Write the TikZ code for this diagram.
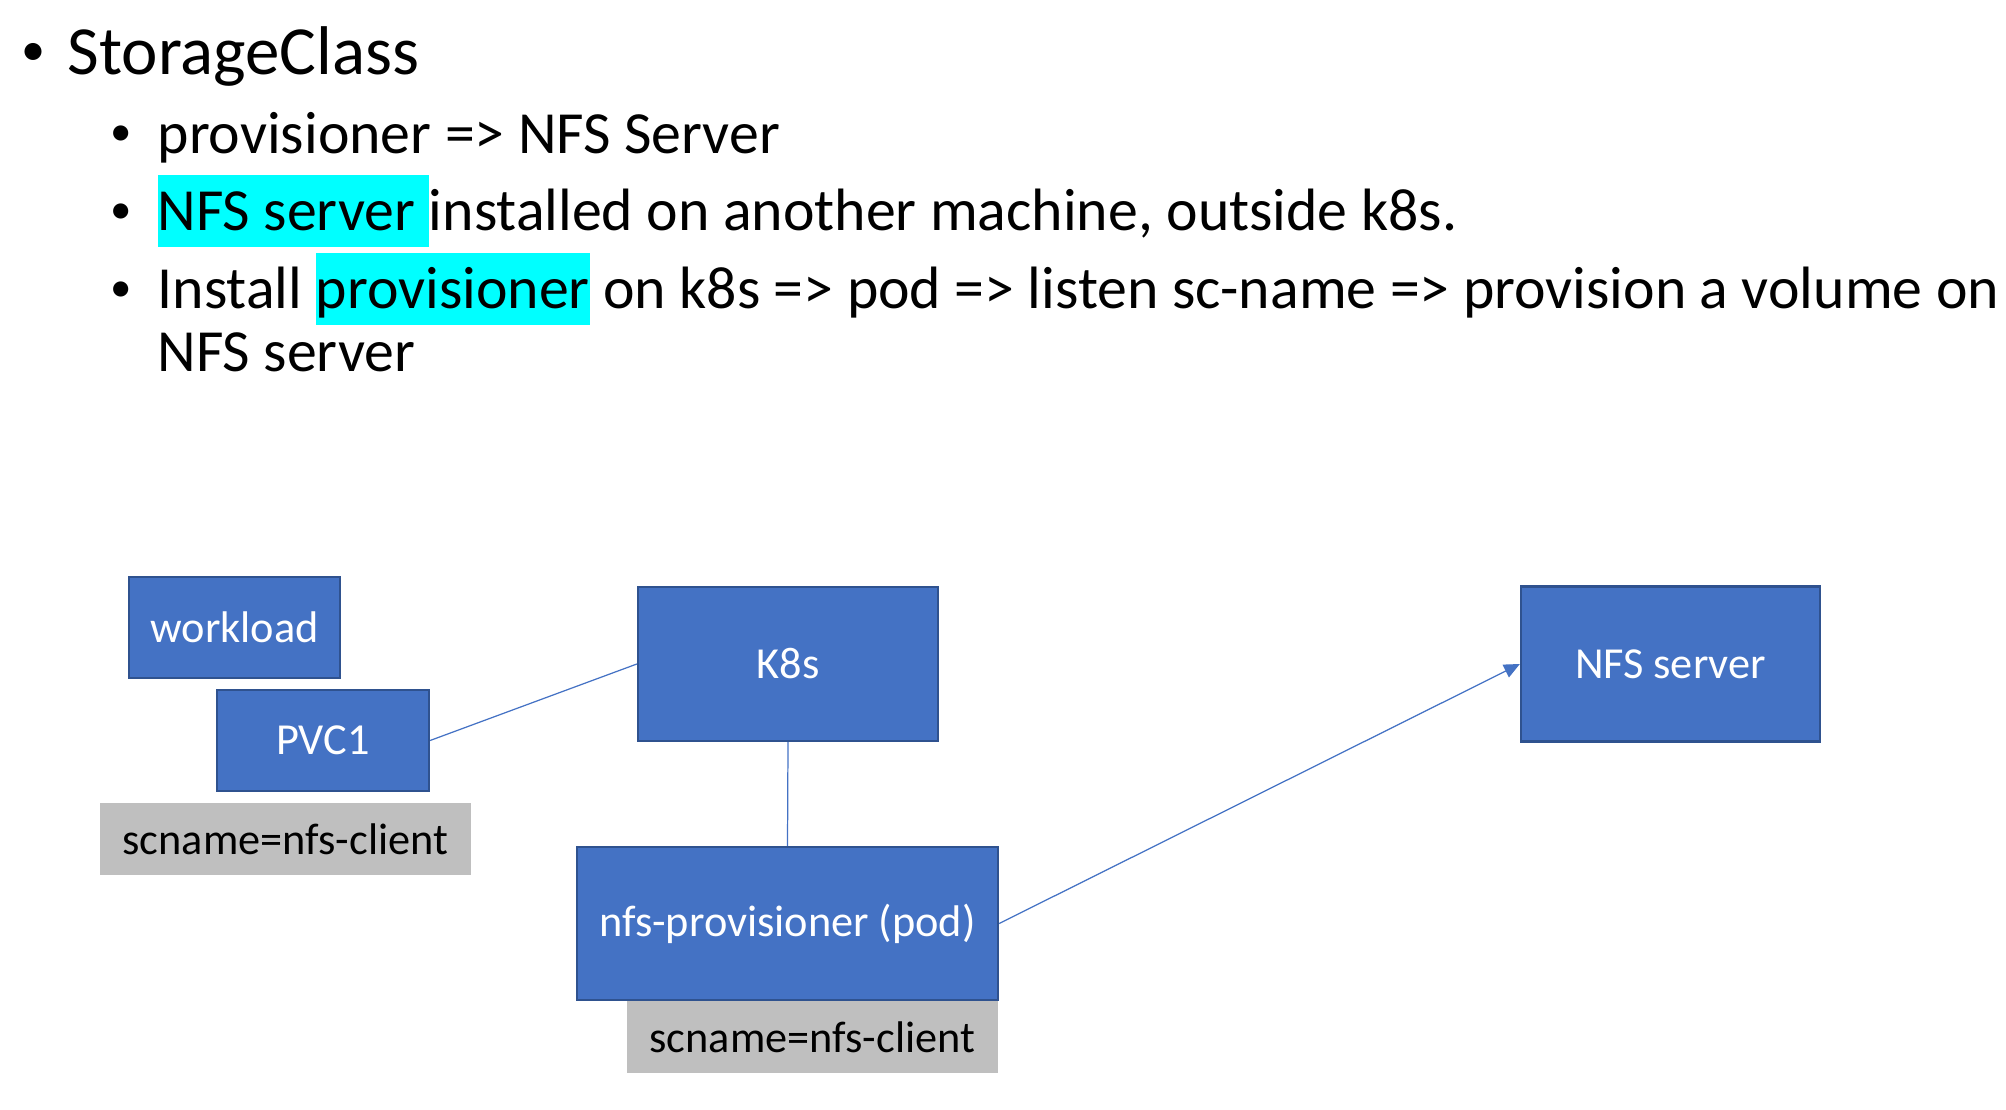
\documentclass[tikz,border=0pt]{standalone}
\usepackage{fontspec}
\setmainfont{Carlito}
\usepackage{xcolor}
\usepackage{tikz}
\usetikzlibrary{arrows.meta, positioning}

\definecolor{boxblue}{HTML}{4472C4}
\definecolor{boxedge}{HTML}{2F528F}
\definecolor{tagGray}{HTML}{BFBFBF}
\definecolor{hlcyan}{HTML}{00FFFF}

\newcommand{\hlbox}[1]{{\setlength{\fboxsep}{0pt}\colorbox{hlcyan}{\rule[-4.6pt]{0pt}{20.5pt}#1}}}

\begin{document}
\begin{tikzpicture}[x=0.01cm, y=-0.01cm,
    blk/.style={draw=boxedge, line width=0.6pt, fill=boxblue, text=white, inner sep=0pt, font=\fontsize{12.6}{15}\selectfont},
    tag/.style={fill=tagGray, inner sep=0pt, font=\fontsize{12.6}{15}\selectfont},
    lnk/.style={draw=boxblue, line width=0.35pt},
    txt/.style={anchor=base west, inner sep=0pt, font=\fontsize{17}{20}\selectfont},
    dot/.style={anchor=base, inner sep=0pt, font=\fontsize{12.2}{14}\selectfont}]
    \useasboundingbox (0,0) rectangle (2006,1110);

    % 标题
    \node[dot, font=\fontsize{13.7}{16}\selectfont] (b0) at (33.5,66) {\textbullet};
    \node[anchor=base west, inner sep=0pt, font=\fontsize{19.6}{23}\selectfont] (title) at (67,75) {StorageClass};

    % 要点
    \node[dot] (b1) at (121.3,146) {\textbullet};
    \node[dot] (b2) at (121.3,224) {\textbullet};
    \node[dot] (b3) at (121.3,302) {\textbullet};
    \node[txt] (l1) at (157,154) {provisioner => NFS Server};
    \node[txt] (l2) at (157,230.7) {\hlbox{NFS server\ }installed on another machine, outside k8s.};
    \node[txt] (l3) at (157,309) {Install \hlbox{provisioner} on k8s => pod => listen sc-name => provision a volume on};
    \node[txt] (l4) at (157,372) {NFS server};

    % 方框
    \node[blk, minimum width=2.11cm, minimum height=1.01cm] (work) at (234.5,627.5) {workload};
    \node[blk, minimum width=2.12cm, minimum height=1.01cm] (pvc) at (323,740.5) {PVC1};
    \node[blk, minimum width=3.00cm, minimum height=1.54cm] (k8s) at (788,664) {K8s};
    \node[blk, minimum width=4.21cm, minimum height=1.53cm] (prov) at (787.5,923.5) {nfs-provisioner (pod)};
    \node[blk, minimum width=2.99cm, minimum height=1.55cm] (nfs) at (1670.5,664) {NFS server};

    % 标签
    \node[tag, minimum width=3.71cm, minimum height=0.72cm] (tag1) at (285.5,839) {scname=nfs-client};
    \node[tag, minimum width=3.71cm, minimum height=0.71cm] (tag2) at (812.5,1037) {scname=nfs-client};

    % 连线
    \draw[lnk] (pvc.east) -- (k8s.west);
    \draw[lnk] (k8s.south) -- (prov.north);
    \draw[lnk, -{Triangle[length=4.5pt, width=4pt]}, fill=boxblue] (prov.east) -- (nfs.west);
\end{tikzpicture}
\end{document}
